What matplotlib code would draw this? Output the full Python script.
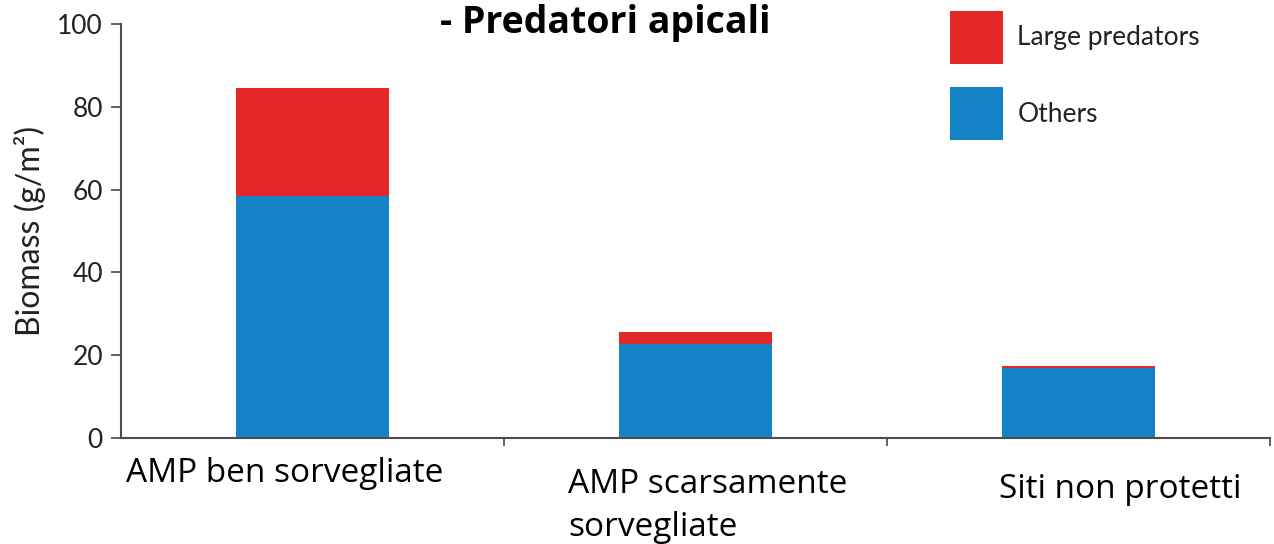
import matplotlib
matplotlib.use("Agg")
from matplotlib import pyplot as plt
import numpy as np

# data
categories = ['AMP ben sorvegliate', 'AMP scarsamente\nsorvegliate', 'Siti non protetti']
others = [58.5, 22.7, 17.0]
large_predators = [26.0, 2.8, 0.4]

RED = '#e32726'
BLUE = '#1484c6'

fig = plt.figure(figsize=(12.74, 5.44), dpi=100)
ax = fig.add_axes([0.095, 0.195, 0.902, 0.761])

x = np.arange(len(categories))
b1 = ax.bar(x, others, width=0.4, color=BLUE, label='Others')
b2 = ax.bar(x, large_predators, width=0.4, bottom=others, color=RED, label='Large predators')

ax.set_xlim(-0.5, 2.5)
ax.set_ylim(0, 100)
ax.set_yticks([0, 20, 40, 60, 80, 100])
ax.set_xticks([0.5, 1.5, 2.5])
ax.set_xticklabels([])
ax.tick_params(axis='x', length=6, width=1.3, color='#555555', direction='out')
ax.tick_params(axis='y', length=7, width=1.3, color='#555555', labelsize=19,
               labelcolor='#222222', pad=6)
for lab in ax.get_yticklabels():
    lab.set_family('Lato')

for s in ['top', 'right']:
    ax.spines[s].set_visible(False)
for s in ['left', 'bottom']:
    ax.spines[s].set_color('#4d4d4d')
    ax.spines[s].set_linewidth(1.5)

ax.set_ylabel('Biomass (g/m²)', fontsize=23, family='Lato', color='#222222', labelpad=8)

leg = fig.legend([b2, b1], ['Large predators', 'Others'], loc='upper left',
                 bbox_to_anchor=(0.7457, 0.98), frameon=False,
                 handlelength=2.0, handleheight=2.7, labelspacing=0.9,
                 handletextpad=0.55, borderpad=0, borderaxespad=0,
                 prop={'family': 'Lato', 'size': 19})
for t in leg.get_texts():
    t.set_color('#222222')

fig.text(0.475, 0.958, '- Predatori apicali', ha='center', va='center',
         fontsize=27, fontweight='bold', family='Open Sans')

# category labels, placed like the text boxes of the slide
fig.text(0.099, 0.13, categories[0], ha='left', va='center', fontsize=24, family='Open Sans')
fig.text(0.446, 0.07, categories[1], ha='left', va='center', fontsize=24, family='Open Sans',
         linespacing=1.4)
fig.text(0.784, 0.10, categories[2], ha='left', va='center', fontsize=24, family='Open Sans')

fig.savefig('out.png', dpi=100)
